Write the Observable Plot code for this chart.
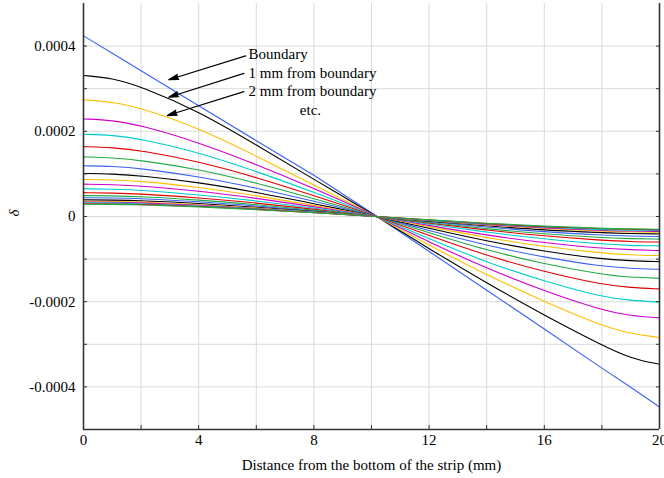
<!DOCTYPE html>
<html>
<head>
<meta charset="utf-8">
<script src="https://cdn.jsdelivr.net/npm/d3@7"></script>
<script src="https://cdn.jsdelivr.net/npm/@observablehq/plot@0.6"></script>
<style>
  html, body { margin: 0; padding: 0; background: #fff; }
  #chart svg { display: block; }
</style>
</head>
<body>
<div id="chart"></div>
<script>
// x positions (mm) where each curve was read
const xPositions = [0, 1, 2, 4, 6, 8, 10.2, 12, 14, 16, 18, 19, 20];
// values below are in units of 1e-4
const valueUnit = 1e-4;
const mm0  = [4.24, 3.83, 3.42, 2.60, 1.78, 0.97, 0, -0.82, -1.73, -2.64, -3.56, -4.01, -4.47];
const mm1  = [3.31, 3.25, 3.05, 2.47, 1.68, 0.87, 0, -0.76, -1.56, -2.32, -3.02, -3.33, -3.47];
const mm2  = [2.74, 2.69, 2.55, 2.08, 1.42, 0.74, 0, -0.68, -1.37, -2.00, -2.57, -2.75, -2.84];
const mm3  = [2.29, 2.26, 2.14, 1.74, 1.22, 0.66, 0, -0.60, -1.22, -1.75, -2.20, -2.33, -2.38];
const mm4  = [1.93, 1.91, 1.82, 1.51, 1.06, 0.57, 0, -0.52, -1.08, -1.52, -1.89, -1.97, -2.01];
const mm5  = [1.64, 1.62, 1.55, 1.29, 0.92, 0.49, 0, -0.45, -0.92, -1.30, -1.60, -1.67, -1.70];
const mm6  = [1.40, 1.38, 1.32, 1.11, 0.79, 0.42, 0, -0.38, -0.79, -1.12, -1.36, -1.43, -1.45];
const mm7  = [1.19, 1.18, 1.13, 0.94, 0.67, 0.36, 0, -0.33, -0.68, -0.96, -1.17, -1.22, -1.24];
const mm8  = [1.01, 1.00, 0.96, 0.80, 0.57, 0.30, 0, -0.28, -0.58, -0.82, -1.00, -1.04, -1.06];
const mm9  = [0.87, 0.86, 0.83, 0.69, 0.49, 0.26, 0, -0.24, -0.50, -0.71, -0.86, -0.90, -0.92];
const mm10 = [0.76, 0.75, 0.72, 0.60, 0.43, 0.23, 0, -0.21, -0.44, -0.62, -0.75, -0.78, -0.80];
const mm11 = [0.65, 0.64, 0.62, 0.51, 0.37, 0.20, 0, -0.18, -0.37, -0.53, -0.65, -0.68, -0.69];
const mm12 = [0.56, 0.55, 0.53, 0.44, 0.32, 0.17, 0, -0.16, -0.32, -0.46, -0.56, -0.59, -0.60];
const mm13 = [0.49, 0.485, 0.47, 0.39, 0.28, 0.15, 0, -0.14, -0.29, -0.41, -0.50, -0.52, -0.53];
const mm14 = [0.44, 0.435, 0.42, 0.35, 0.25, 0.13, 0, -0.12, -0.25, -0.36, -0.44, -0.46, -0.47];
const mm15 = [0.39, 0.385, 0.37, 0.31, 0.22, 0.12, 0, -0.11, -0.22, -0.32, -0.38, -0.40, -0.41];
const mm16 = [0.36, 0.355, 0.34, 0.28, 0.20, 0.11, 0, -0.10, -0.20, -0.28, -0.35, -0.36, -0.37];
const mm17 = [0.34, 0.335, 0.32, 0.27, 0.19, 0.10, 0, -0.09, -0.19, -0.27, -0.33, -0.34, -0.35];
const mm18 = [0.32, 0.315, 0.30, 0.25, 0.18, 0.10, 0, -0.09, -0.18, -0.25, -0.31, -0.32, -0.33];
const mm19 = [0.30, 0.295, 0.285, 0.24, 0.17, 0.09, 0, -0.08, -0.17, -0.24, -0.29, -0.30, -0.31];
const mm20 = [0.29, 0.285, 0.275, 0.23, 0.16, 0.09, 0, -0.08, -0.16, -0.23, -0.28, -0.29, -0.30];
const allSeries = [mm0, mm1, mm2, mm3, mm4, mm5, mm6, mm7, mm8, mm9, mm10,
                   mm11, mm12, mm13, mm14, mm15, mm16, mm17, mm18, mm19, mm20];
const colorCycle = ["#3b62f5", "#000000", "#ffbf00", "#cc00cc", "#00cccc", "#e00000", "#22aa44"];

const xDomain = [0, 20];
const yDomain = [-0.0005, 0.0005];
const xLabelTicks = [0, 4, 8, 12, 16, 20];
const xGridTicks = [2, 4, 6, 8, 10, 12, 14, 16, 18];
const yLabelTicks = [-0.0004, -0.0002, 0, 0.0002, 0.0004];
const yGridTicks = [-0.0004, -0.0003, -0.0002, -0.0001, 0, 0.0001, 0.0002, 0.0003, 0.0004];

const xTitle = "Distance from the bottom of the strip (mm)";
const yTitle = "δ";

const annotationText = ["Boundary", "1 mm from boundary", "2 mm from boundary"];
const annotationX = [5.73, 5.73, 5.73];
const annotationY = [3.80e-4, 3.36e-4, 2.93e-4];
const arrowFromX = [5.63, 5.57, 5.57];
const arrowFromY = [3.77e-4, 3.36e-4, 2.93e-4];
const arrowToX = [2.96, 2.96, 2.91];
const arrowToY = [3.21e-4, 2.80e-4, 2.37e-4];
const etcText = ["etc."];
const etcX = [7.88];
const etcY = [2.49e-4];

const font = "'Liberation Serif', 'Times New Roman', serif";

const lineMarks = allSeries.map((vals, i) =>
  Plot.line(vals.map((v, j) => ({x: xPositions[j], y: v * valueUnit})), {
    x: "x", y: "y", stroke: colorCycle[i % colorCycle.length],
    strokeWidth: 1.1, curve: i === 0 ? "linear" : "basis"
  })
);

const chart = Plot.plot({
  width: 664,
  height: 478,
  marginLeft: 83,
  marginRight: 5,
  marginTop: 3,
  marginBottom: 49,
  style: {fontFamily: font, fontSize: "15px", background: "#fff", color: "#000"},
  x: {domain: xDomain},
  y: {domain: yDomain},
  marks: [
    Plot.gridX(xGridTicks, {stroke: "#dadada", strokeOpacity: 1, strokeWidth: 1}),
    Plot.gridY(yGridTicks, {stroke: "#dadada", strokeOpacity: 1, strokeWidth: 1}),
    ...lineMarks,
    Plot.ruleX(xDomain, {stroke: "#333", strokeWidth: 1.6}),
    Plot.ruleY([yDomain[0]], {stroke: "#333", strokeWidth: 1.6}),
    Plot.axisX(xLabelTicks, {anchor: "bottom", tickSize: 0, tickPadding: 5, label: null,
      tickFormat: d => String(d)}),
    Plot.axisX(xGridTicks, {anchor: "bottom", tickSize: -4, tickFormat: () => "", label: null, stroke: "#333"}),
    Plot.axisY(yLabelTicks, {anchor: "left", tickSize: 0, tickPadding: 8, label: null,
      tickFormat: d => d === 0 ? "0" : d.toFixed(4)}),
    Plot.axisY(yGridTicks, {anchor: "left", tickSize: -4, tickFormat: () => "", label: null, stroke: "#333"}),
    Plot.axisY(yGridTicks, {anchor: "right", tickSize: -4, tickFormat: () => "", label: null, stroke: "#333"}),
    Plot.text([xTitle], {frameAnchor: "bottom", dy: 36, text: d => d, lineAnchor: "middle", fontSize: 15}),
    Plot.text([yTitle], {frameAnchor: "left", dx: -69, text: d => d, rotate: -90, fontStyle: "italic", fontSize: 15}),
    Plot.arrow(arrowFromX, {
      x1: (d, i) => arrowFromX[i], y1: (d, i) => arrowFromY[i],
      x2: (d, i) => arrowToX[i], y2: (d, i) => arrowToY[i],
      stroke: "#000", fill: "#000", strokeWidth: 1.2, headLength: 12.5, headAngle: 30
    }),
    Plot.text(annotationText, {x: (d, i) => annotationX[i], y: (d, i) => annotationY[i], text: d => d,
      textAnchor: "start", fontSize: 15}),
    Plot.text(etcText, {x: (d, i) => etcX[i], y: (d, i) => etcY[i], text: d => d, fontSize: 15})
  ]
});
document.getElementById("chart").appendChild(chart);
</script>
</body>
</html>
